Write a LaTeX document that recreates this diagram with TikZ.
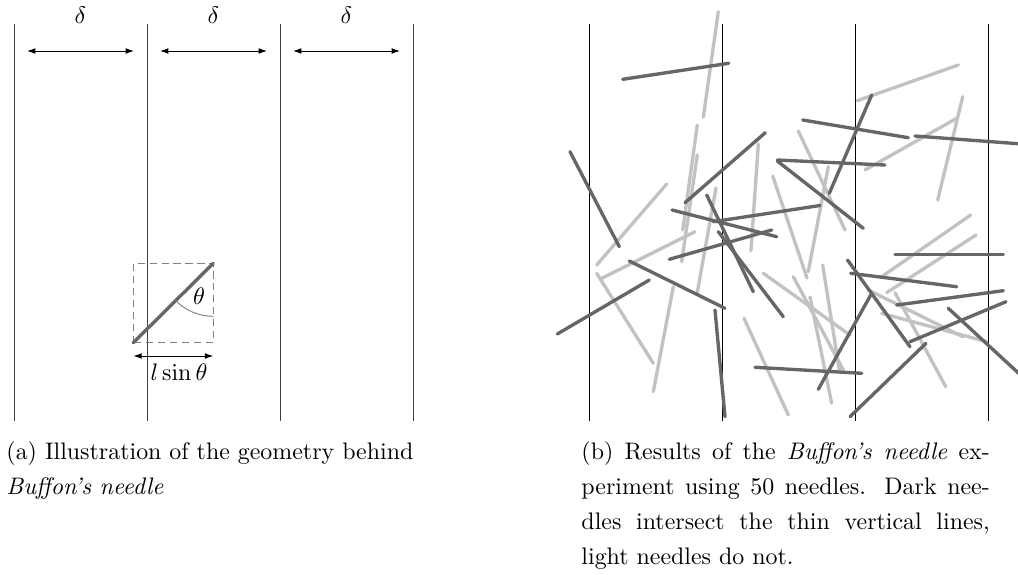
\documentclass[tikz,border=0pt]{standalone}
\usepackage{amsmath,amssymb}
\usetikzlibrary{calc,arrows.meta}
\definecolor{needledark}{gray}{0.4}
\definecolor{needlelight}{gray}{0.76}

\begin{document}
\begin{tikzpicture}[x=0.0147cm,y=-0.0147cm,
        font=\fontsize{10}{14.6}\selectfont,
        needle/.style={line width=1.4pt,line cap=round},
        thinline/.style={line width=0.4pt},
        dimarrow/.style={{Latex[length=3.5pt,width=2.4pt]}-{Latex[length=3.5pt,width=2.4pt]}}]
    \useasboundingbox(0,0)rectangle(1018,574);
    % (a) parallel lines
    \foreach \n/\x in {0/14,1/147,2/280,3/413}{
        \coordinate(A\n)at(\x,24);
        \coordinate(B\n)at(\x,421);
        \path[draw,thinline,black!75](A\n)to(B\n);
    }
    % distance delta
    \foreach \n/\x in {0/14,1/147,2/280}{
        \coordinate(L\n)at(\x+13,51);
        \coordinate(R\n)at(\x+120,51);
        \path[draw,dimarrow](L\n)to(R\n);
        \node(delta\n)at(\x+66.5,15){$\delta$};
    }
    % needle in its box
    \coordinate(N1)at(133.3,342.7);
    \coordinate(N2)at(213.3,263.3);
    \path[draw,gray,dash pattern=on 3pt off 2pt](N1)rectangle(N2);
    \path[draw,needle,needledark](N1)to(N2);
    % angle
    \path[draw,gray,thinline]($(N2)+(0,53)$)arc(90:135:53);
    \node(theta)at(199,296){$\theta$};
    % horizontal extent
    \coordinate(W1)at(133.3,356);
    \coordinate(W2)at(213.3,356);
    \path[draw,dimarrow](W1)to(W2);
    \node(extent)at(179,372){$l\sin\theta$};
    % caption (a)
    \node[anchor=north west,inner sep=0pt,align=left](capa)at(6,441.5){(a) Illustration of the geometry behind\\\textit{Buffon's needle}};

    % (b) parallel lines
    \foreach \n/\x in {0/589.7,1/722.3,2/855.3,3/988.3}{
        \coordinate(C\n)at(\x,24);
        \coordinate(D\n)at(\x,421);
        \path[draw,thinline](C\n)to(D\n);
    }
    % light needles (no hit)
    \foreach \a/\b/\c/\d in {718.3/11.7/703.3/117.3, 697.3/125/682.7/230,
        697.3/155/681.7/261.7, 758.3/144/751/250.7, 666.7/184/596.7/265,
        716/188/697/294, 772.7/176/807/278, 857.3/100.7/958.3/65,
        865/170/956.7/118.3, 962.7/96.7/937.7/200, 798.3/131/845/230,
        601.7/278.3/695/231.7, 596.7/273.3/653.3/363.3, 673.3/286.7/653.3/391.7,
        828.3/166.7/808.3/271.7, 763.3/273.3/850/335, 793.3/276.7/843.3/370,
        822.7/265/839.3/370, 810/297/831.7/403.3, 881.7/276.7/970.7/215,
        886.7/292.7/976/235, 868.3/290/962.7/336.7, 881.7/313.3/986.7/341.7,
        895/292.7/945.7/386.7, 744/318.3/788.3/415}
        \path[draw,needle,needlelight](\a,\b)to(\c,\d);
    % dark needles (hit)
    \foreach \a/\b/\c/\d in {622.7/79.3/728.7/63.3, 765.3/132.7/685/202.7,
        570/151.7/619.3/246.7, 706.7/195/753.3/291.7, 672/210/776.7/236.7,
        777.3/160/885/165, 871.7/95/829.3/193.3, 802.7/120/908.3/137.7,
        915/136/1022/144, 777.3/161/863.3/228.3, 713.3/221.7/820/205.5,
        669.3/259.3/771.7/230, 718.3/231.7/783.3/316.7, 629.3/261/725/308.3,
        557.3/334/649.3/280, 847.5/260/910/346.7, 850.7/273.3/956.7/286.7,
        818.3/389.3/870.7/295, 755/367.3/861.7/373.3, 895/254.7/1003.3/254.7,
        896.7/305/1003.3/290.7, 910/341.7/1006/301.7, 948.3/308.3/1027/381,
        850/416.7/926/343.3, 715/310/725/416.7}
        \path[draw,needle,needledark](\a,\b)to(\c,\d);
    % caption (b)
    \node[anchor=north west,inner sep=0pt,text width=6cm,align=justify](capb)at(581,441.5){(b) Results of the \textit{Buffon's needle} ex-\linebreak periment using 50 needles. Dark nee-\linebreak dles intersect the thin vertical lines,\linebreak light needles do not.};
\end{tikzpicture}
\end{document}
